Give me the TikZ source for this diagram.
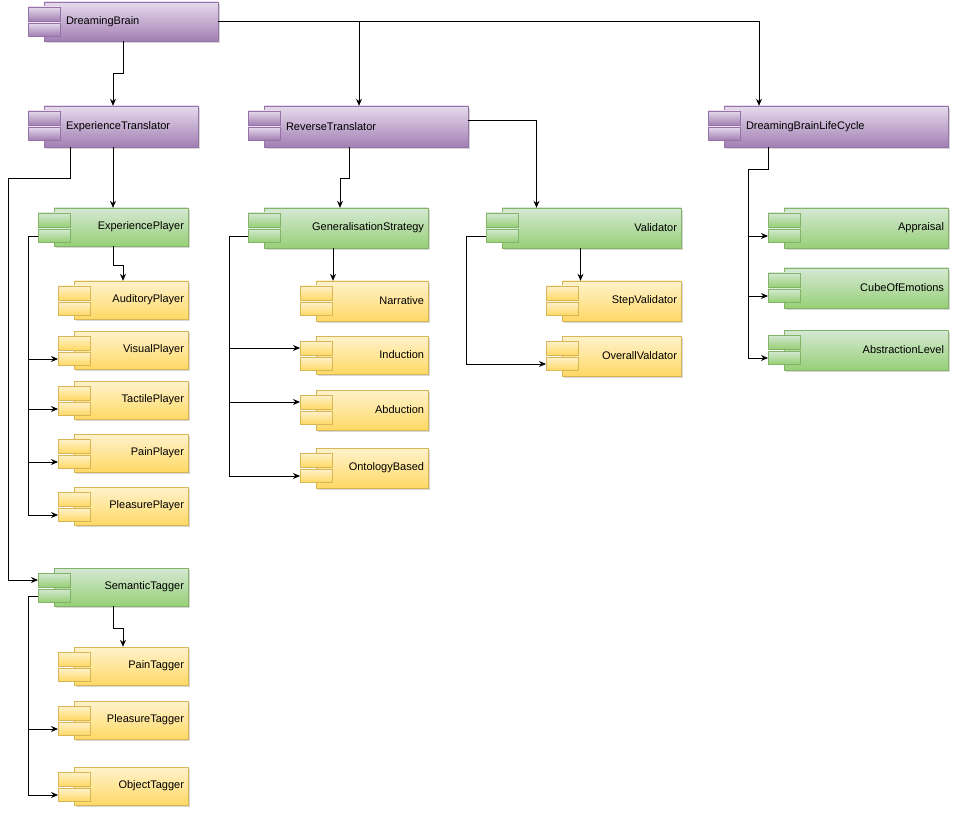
\documentclass[tikz,border=0pt]{standalone}
\usepackage{fontspec}
\setmainfont{Liberation Sans}
\usetikzlibrary{arrows.meta,shadows,calc}
\definecolor{pb}{HTML}{9673A6}\definecolor{pt}{HTML}{E6DAEC}\definecolor{pbt}{HTML}{A27FB3}
\definecolor{gb}{HTML}{82B366}\definecolor{gt}{HTML}{D5E8D4}\definecolor{gbt}{HTML}{97D077}
\definecolor{yb}{HTML}{D6B656}\definecolor{yt}{HTML}{FFF2CC}\definecolor{ybt}{HTML}{FFD966}
\tikzset{
 purple/.style={draw=pb,top color=pt,bottom color=pbt,align=left,inner xsep=22pt},
 green/.style={draw=gb,top color=gt,bottom color=gbt,align=right,inner xsep=4pt},
 yellow/.style={draw=yb,top color=yt,bottom color=ybt,align=right,inner xsep=4pt},
 tabpurple/.style={draw=pb,top color=pt,bottom color=pbt},
 tabgreen/.style={draw=gb,top color=gt,bottom color=gbt},
 tabyellow/.style={draw=yb,top color=yt,bottom color=ybt},
 comp/.style={rectangle,inner ysep=0pt,drop shadow={shadow xshift=2pt,shadow yshift=-2pt,opacity=0.3},font=\fontsize{11}{13}\selectfont},
 arr/.style={draw=black,line width=0.9pt,-{Stealth[length=7pt,width=6pt]}}
}
% name, left, top, right, bottom, style, text
\newcommand\comp[7]{%
 \pgfmathsetmacro\cw{#4-#2-16}\pgfmathsetmacro\ch{#5-#3}%
 \node[comp,#6,minimum width=\cw pt,minimum height=\ch pt,text width=\cw pt - 2*\pgfkeysvalueof{/pgf/inner xsep}] (#1) at ({(#2+16+#4)/2},{(#3+#5)/2}) {#7};
 \draw[tab#6] (#2,#3+5) rectangle ++(32,14);
 \draw[tab#6] (#2,#3+21) rectangle ++(32,13);
 \coordinate (#1-t1) at (#2,#3+12);
 \coordinate (#1-t2) at (#2,#3+28);
}
\begin{document}
\begin{tikzpicture}[x=1pt,y=-1pt]
\useasboundingbox[fill=white] (0,0) rectangle (959,813);
\comp{DB}{28}{2}{218}{41}{purple}{DreamingBrain}
\comp{ET}{28}{106}{198}{147}{purple}{ExperienceTranslator}
\comp{RT}{248}{106}{468}{147}{purple}{ReverseTranslator}
\comp{LC}{708}{106}{948}{147}{purple}{DreamingBrainLifeCycle}
\comp{EP}{38}{208}{188}{246}{green}{ExperiencePlayer}
\comp{GS}{248}{208}{428}{248}{green}{GeneralisationStrategy}
\comp{VA}{486}{208}{681}{248}{green}{Validator}
\comp{AP}{768}{208}{948}{248}{green}{Appraisal}
\comp{CE}{768}{268}{948}{308}{green}{CubeOfEmotions}
\comp{AL}{768}{330}{948}{370}{green}{AbstractionLevel}
\comp{AU}{58}{281}{188}{319}{yellow}{AuditoryPlayer}
\comp{VP}{58}{331}{188}{369}{yellow}{VisualPlayer}
\comp{TP}{58}{381}{188}{419}{yellow}{TactilePlayer}
\comp{PP}{58}{434}{188}{472}{yellow}{PainPlayer}
\comp{PL}{58}{487}{188}{525}{yellow}{PleasurePlayer}
\comp{ST}{38}{568}{188}{606}{green}{SemanticTagger}
\comp{PT}{58}{647}{188}{685}{yellow}{PainTagger}
\comp{PQ}{58}{701}{188}{739}{yellow}{PleasureTagger}
\comp{OT}{58}{767}{188}{805}{yellow}{ObjectTagger}
\comp{NA}{300}{281}{428}{321}{yellow}{Narrative}
\comp{IN}{300}{336}{428}{374}{yellow}{Induction}
\comp{AB}{300}{390}{428}{430}{yellow}{Abduction}
\comp{OB}{300}{448}{428}{488}{yellow}{OntologyBased}
\comp{SV}{546}{281}{681}{321}{yellow}{StepValidator}
\comp{OV}{546}{336}{681}{376}{yellow}{OverallValdator}
\coordinate (l1) at (8,178);
% connectors
\draw[arr] ([xshift=-8pt]DB.south) -- ++(0,32) -| ([xshift=-8pt]ET.north);
\draw[arr] (DB.east) -| ([xshift=-77pt]LC.north);
\draw[arr] (DB.east -| RT.north) ++(-7,0) -- ([xshift=-7pt]RT.north);
\draw[arr] ([xshift=-8pt]ET.south) -- ([xshift=-8pt]EP.north);
\draw[arr] ([xshift=-51pt]ET.south) |- (l1) |- (ST-t1);
\draw[arr] (EP-t2) -- ++(-10,0) |- (VP-t2);
\draw[arr] (EP-t2) -- ++(-10,0) |- (TP-t2);
\draw[arr] (EP-t2) -- ++(-10,0) |- (PP-t2);
\draw[arr] (EP-t2) -- ++(-10,0) |- (PL-t2);
\draw[arr] ([xshift=-8pt]EP.south) -- ++(0,19) -| ([xshift=-8pt]AU.north);
\draw[arr] (ST-t2) -- ++(-10,0) |- (PQ-t2);
\draw[arr] (ST-t2) -- ++(-10,0) |- (OT-t2);
\draw[arr] ([xshift=-8pt]ST.south) -- ++(0,22) -| ([xshift=-8pt]PT.north);
\draw[arr] ([xshift=-17pt]RT.south) -- ++(0,31) -| ([xshift=-6pt]GS.north);
\draw[arr] ([yshift=6pt]RT.east) -| ([xshift=-55pt]VA.north);
\draw[arr] (GS-t2) -- ++(-19,0) |- (IN-t1);
\draw[arr] (GS-t2) -- ++(-19,0) |- (AB-t1);
\draw[arr] (GS-t2) -- ++(-19,0) |- (OB-t2);
\draw[arr] ([xshift=-13pt]GS.south) -- ([xshift=-39pt]NA.north);
\draw[arr] (VA-t2) -- ++(-20,0) |- (OV-t2);
\draw[arr] ([xshift=-11pt]VA.south) -- ([xshift=-41pt]SV.north);
\draw[arr] ([xshift=-68pt]LC.south) -- ++(0,22) -| ++(-20,0) |- (AP-t2);
\draw[arr] ([xshift=-68pt]LC.south) -- ++(0,22) -| ++(-20,0) |- (CE-t2);
\draw[arr] ([xshift=-68pt]LC.south) -- ++(0,22) -| ++(-20,0) |- (AL-t2);
\end{tikzpicture}
\end{document}
